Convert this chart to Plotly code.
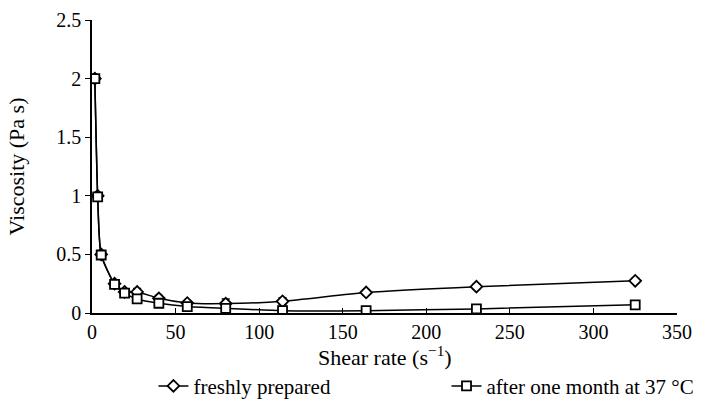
import plotly.graph_objects as go

shear_rate = [1.7, 3.4, 5.5, 13.5, 19.5, 27, 40, 57, 80, 114, 164, 230, 325]
fresh = [2.0, 1.0, 0.5, 0.25, 0.18, 0.18, 0.125, 0.085, 0.08, 0.10, 0.175, 0.225, 0.275]
fresh_err = [0.02, 0.02, 0.02, 0.02, 0.02, 0.03, 0.025, 0.02, 0.04, 0.03, 0.02, 0.02, 0.02]
month = [2.0, 0.99, 0.495, 0.245, 0.17, 0.12, 0.083, 0.055, 0.04, 0.02, 0.02, 0.035, 0.07]
month_err = [0.02, 0.02, 0.03, 0.02, 0.02, 0.02, 0.02, 0.02, 0.03, 0.03, 0.02, 0.02, 0.03]

x_ticks = [0, 50, 100, 150, 200, 250, 300, 350]
y_ticks = [0, 0.5, 1, 1.5, 2, 2.5]
y_tick_text = ["0", "0.5", "1", "1.5", "2", "2.5"]

font_family = "Liberation Serif, Times New Roman, serif"

fig = go.Figure()
fig.add_trace(go.Scatter(
    x=shear_rate, y=fresh, name="freshly prepared", legend="legend",
    mode="lines+markers",
    line=dict(color="black", width=1.5, shape="spline", smoothing=0.6),
    marker=dict(symbol="diamond", size=9, color="white", line=dict(color="black", width=1.8)),
    error_y=dict(type="data", array=fresh_err, color="black", thickness=1.5, width=4),
))
fig.add_trace(go.Scatter(
    x=shear_rate, y=month, name="after one month at 37 °C", legend="legend2",
    mode="lines+markers",
    line=dict(color="black", width=1.5, shape="spline", smoothing=0.6),
    marker=dict(symbol="square", size=9, color="white", line=dict(color="black", width=1.8)),
    error_y=dict(type="data", array=month_err, color="black", thickness=1.5, width=4),
))

legend_common = dict(orientation="h", y=-0.18, yanchor="top", xanchor="left",
                     font=dict(size=21), itemwidth=30, bgcolor="rgba(0,0,0,0)")

fig.update_layout(
    width=701, height=412,
    margin=dict(l=92, r=24, t=20, b=99, autoexpand=False),
    paper_bgcolor="white", plot_bgcolor="white",
    font=dict(family=font_family, size=20, color="black"),
    showlegend=True,
    legend=dict(x=0.105, **legend_common),
    legend2=dict(x=0.606, **legend_common),
    xaxis=dict(range=[0, 350], tickvals=x_ticks, ticks="inside", ticklen=5,
               tickcolor="black", showline=True, linecolor="black", linewidth=1.5,
               showgrid=False, zeroline=False,
               tickfont=dict(size=20)),
    yaxis=dict(range=[0, 2.5], tickvals=y_ticks, ticktext=y_tick_text, ticks="outside",
               ticklen=5, tickcolor="black", showline=True, linecolor="black", linewidth=1.5,
               showgrid=False, zeroline=False,
               title=dict(text="Viscosity (Pa s)", standoff=26, font=dict(size=22)),
               tickfont=dict(size=20)),
    annotations=[dict(text="Shear rate (s<sup>−1</sup>)", xref="paper", yref="paper",
                      x=0.5, y=-0.148, xanchor="center", yanchor="middle",
                      showarrow=False, font=dict(size=22))],
)

fig.write_html("out.html", config={"displayModeBar": False},
               post_script="document.body.style.margin='0';")
